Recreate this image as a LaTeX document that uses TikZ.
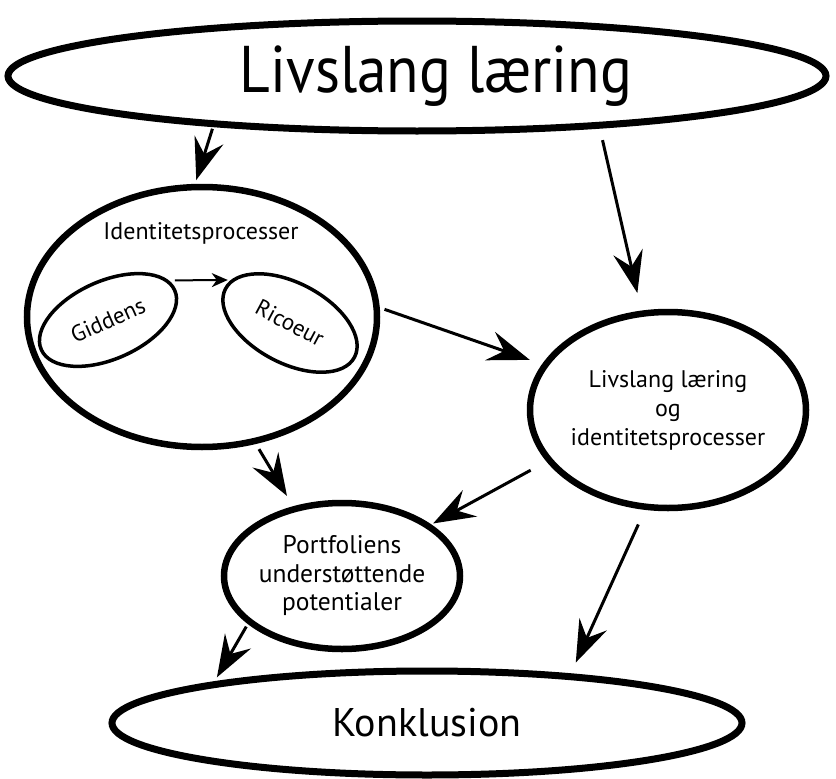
\documentclass[tikz,border=0pt]{standalone}
\usepackage{fontspec}
\setmainfont{PT Sans}
\newfontfamily\narrowfont{PT Sans}[FakeStretch=0.9]
\usetikzlibrary{shapes.geometric,arrows.meta}

\begin{document}
\begin{tikzpicture}[x=1pt,y=-1pt,-,>={Stealth[length=42pt,width=30pt,inset=15pt]},
  line width=3pt,
  big node/.style={ellipse,draw,line width=7pt,inner sep=0pt},
  main node/.style={ellipse,draw,line width=6.5pt,inner sep=0pt,align=center,font=\fontsize{24}{29}\selectfont},
  sub node/.style={ellipse,draw,line width=3.5pt,inner sep=0pt,font=\fontsize{23}{26}\selectfont}]
  \useasboundingbox (0,0) rectangle (836,779);
  \node[big node,minimum width=818pt,minimum height=110pt,font=\narrowfont\fontsize{66}{72}\selectfont] (top) at (417,76) {\hspace*{38pt}Livslang læring};
  \node[main node,minimum width=350pt,minimum height=260pt] (ident) at (202,317) {};
  \node[font=\fontsize{24}{28}\selectfont] (identtitle) at (201,233) {Identitetsprocesser};
  \node[sub node,minimum width=146pt,minimum height=78pt,rotate=24] (giddens) at (108,320) {Giddens};
  \node[sub node,minimum width=146pt,minimum height=80pt,rotate=-28] (ricoeur) at (290,323) {Ricoeur};
  \node[main node,minimum width=276pt,minimum height=196pt] (lli) at (668,410) {Livslang læring\\og\\identitetsprocesser};
  \node[main node,minimum width=236pt,minimum height=146pt,font=\fontsize{25.5}{28.5}\selectfont] (portf) at (342,576) {Portfoliens\\understøttende\\potentialer};
  \node[big node,minimum width=630pt,minimum height=104pt,font=\fontsize{40}{48}\selectfont] (konkl) at (427,723) {Konklusion};

  \path[->]
    (top.194) edge[shorten <=2pt,shorten >=4pt] (ident.93)
    (top.344) edge[shorten <=12pt,shorten >=18pt] (lli.105)
    (ident.3) edge[shorten <=5pt,shorten >=13pt] (lli.160)
    (ident.293) edge[shorten <=6pt,shorten >=12pt] (portf.125)
    (lli.203) edge[shorten <=18pt,shorten >=2pt] (portf.30)
    (portf.207) edge[shorten <=3pt,shorten >=5pt] (konkl.169)
    (lli.257) edge[shorten <=16pt,shorten >=12pt] (konkl.19);
  \path[->,line width=2pt,>={Stealth[length=16pt,width=14pt,inset=5pt]}]
    (giddens.9) edge[shorten <=6pt,shorten >=3pt] (ricoeur.172);
\end{tikzpicture}
\end{document}
